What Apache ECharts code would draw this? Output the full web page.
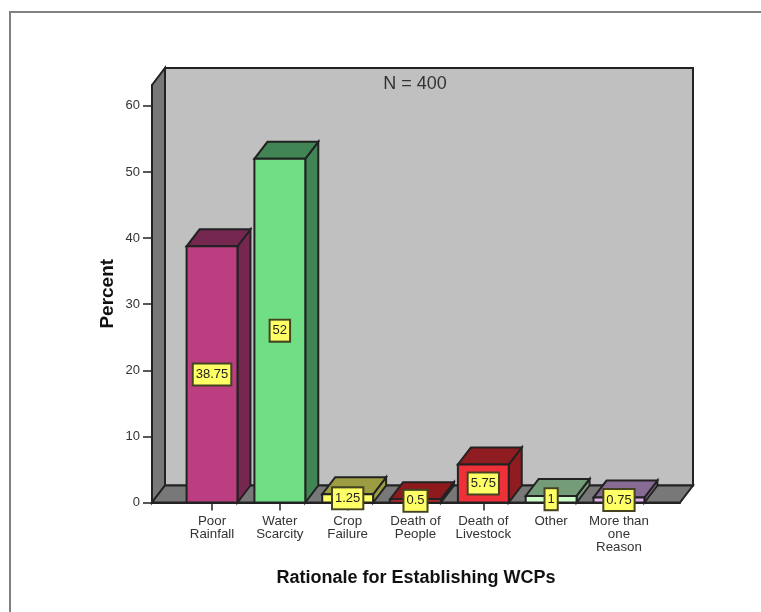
<!DOCTYPE html>
<html>
<head>
<meta charset="utf-8">
<style>html,body{margin:0;padding:0;background:#fff}#chart{width:761px;height:612px}</style>
<script src="https://cdn.jsdelivr.net/npm/echarts@6/dist/echarts.min.js"></script>
</head>
<body>
<div id="chart"></div>
<script>
// Survey responses: rationale for establishing WCPs (percent of 400 respondents)
const categories = ['Poor\nRainfall', 'Water\nScarcity', 'Crop\nFailure', 'Death of\nPeople', 'Death of\nLivestock', 'Other', 'More than\none\nReason'];
const percents = [38.75, 52, 1.25, 0.5, 5.75, 1, 0.75];
const valueLabels = ['38.75', '52', '1.25', '0.5', '5.75', '1', '0.75'];
const frontColors = ['#BA3E80', '#70DE85', '#FFFF66', '#E8282C', '#F03038', '#CCFFCC', '#DDB0F0'];
const shadeColors = ['#75274F', '#408553', '#9C9C42', '#8E1A1E', '#8E1C20', '#759C78', '#866C94'];
const yTicks = [0, 10, 20, 30, 40, 50, 60];
const xTicks = [0, 1, 2, 3, 4, 5, 6];

// Pseudo-3D extrusion of the chart box, in pixels
const DEPTH_X = 13;
const DEPTH_Y = 17;
const BAR_WIDTH = 0.75;
const X_MIN = -0.885;
const X_MAX = 6.9;
const Y_MAX = 63.16;
const EDGE = '#222222';

const chart = echarts.init(document.getElementById('chart'), null, { renderer: 'canvas' });

function poly(points, fill, z2, width) {
  return {
    type: 'polygon',
    z2: z2,
    shape: { points: points },
    style: { fill: fill, stroke: EDGE, lineWidth: width || 1.5, lineJoin: 'miter' }
  };
}

function renderBox(params, api) {
  const a = api.coord([X_MIN, 0]);
  const b = api.coord([X_MAX, 0]);
  const t = api.coord([X_MIN, Y_MAX]);
  return {
    type: 'group',
    children: [
      poly([[a[0] + DEPTH_X, t[1] - DEPTH_Y], [b[0] + DEPTH_X, t[1] - DEPTH_Y], [b[0] + DEPTH_X, a[1] - DEPTH_Y], [a[0] + DEPTH_X, a[1] - DEPTH_Y]], '#C0C0C0', 1, 2),
      poly([a, [a[0] + DEPTH_X, a[1] - DEPTH_Y], [a[0] + DEPTH_X, t[1] - DEPTH_Y], t], '#787878', 2, 2),
      poly([a, b, [b[0] + DEPTH_X, b[1] - DEPTH_Y], [a[0] + DEPTH_X, a[1] - DEPTH_Y]], '#787878', 2, 2)
    ]
  };
}

function renderBar(params, api) {
  const i = api.value(0);
  const v = api.value(1);
  const bl = api.coord([i - BAR_WIDTH / 2, 0]);
  const br = api.coord([i + BAR_WIDTH / 2, 0]);
  const tl = api.coord([i - BAR_WIDTH / 2, v]);
  const tr = api.coord([i + BAR_WIDTH / 2, v]);
  const up = (p) => [p[0] + DEPTH_X, p[1] - DEPTH_Y];
  return {
    type: 'group',
    children: [
      poly([tr, br, up(br), up(tr)], shadeColors[i], 3, 2),
      poly([tl, tr, up(tr), up(tl)], shadeColors[i], 3, 2),
      poly([bl, br, tr, tl], frontColors[i], 4, 2)
    ]
  };
}

function renderValueLabel(params, api) {
  const i = api.value(0);
  const mid = api.coord([i, api.value(1) / 2]);
  return {
    type: 'text',
    z2: 10,
    x: mid[0],
    y: mid[1],
    style: {
      text: valueLabels[i],
      font: '13px "Liberation Sans", Arial, sans-serif',
      fill: '#222222',
      align: 'center',
      verticalAlign: 'middle',
      backgroundColor: '#FFFF66',
      borderColor: '#444422',
      borderWidth: 2,
      padding: [4, 2, 3, 2]
    }
  };
}

const rows = percents.map((p, i) => [i, p]);

chart.setOption({
  animation: false,
  backgroundColor: '#ffffff',
  textStyle: { fontFamily: '"Liberation Sans", Arial, sans-serif' },
  grid: { left: 152, top: 85, width: 528, height: 417.5 },
  xAxis: {
    type: 'value',
    min: X_MIN,
    max: X_MAX,
    name: 'Rationale for Establishing WCPs',
    nameLocation: 'middle',
    nameGap: 67,
    nameTextStyle: { fontSize: 18, fontWeight: 'bold', color: '#111111' },
    splitLine: { show: false },
    axisLine: { show: true, onZero: false, lineStyle: { color: '#222222', width: 2 } },
    axisTick: { show: true, length: 8, customValues: xTicks, lineStyle: { color: '#222222', width: 1.5 } },
    axisLabel: {
      customValues: xTicks,
      margin: 12,
      fontSize: 13.3,
      lineHeight: 13,
      color: '#333333',
      verticalAlign: 'top',
      formatter: (v) => categories[v]
    }
  },
  yAxis: {
    type: 'value',
    min: 0,
    max: Y_MAX,
    name: 'Percent',
    nameLocation: 'middle',
    nameGap: 35,
    nameMoveOverlap: false,
    nameTextStyle: { fontSize: 19, fontWeight: 'bold', color: '#111111' },
    splitLine: { show: false },
    axisLine: { show: true, onZero: false, lineStyle: { color: '#222222', width: 2 } },
    axisTick: { show: true, length: 9, customValues: yTicks, lineStyle: { color: '#222222', width: 1.5 } },
    axisLabel: { customValues: yTicks, margin: 12, fontSize: 13, color: '#333333', padding: [3, 0, 0, 0] }
  },
  graphic: [
    { type: 'rect', z: -1, shape: { x: 10, y: 12, width: 800, height: 700 }, style: { fill: '#ffffff', stroke: '#808080', lineWidth: 2 } },
    { type: 'text', z: 100, x: 415, y: 84, style: { text: 'N = 400', font: '18px "Liberation Sans", Arial, sans-serif', fill: '#333333', align: 'center', verticalAlign: 'middle' } }
  ],
  series: [
    { type: 'custom', z: 1, clip: false, silent: true, data: [[0, 0]], renderItem: renderBox },
    { type: 'custom', z: 2, clip: false, silent: true, data: rows, renderItem: renderBar },
    { type: 'custom', z: 5, clip: false, silent: true, data: rows, renderItem: renderValueLabel }
  ]
});
</script>
</body>
</html>
